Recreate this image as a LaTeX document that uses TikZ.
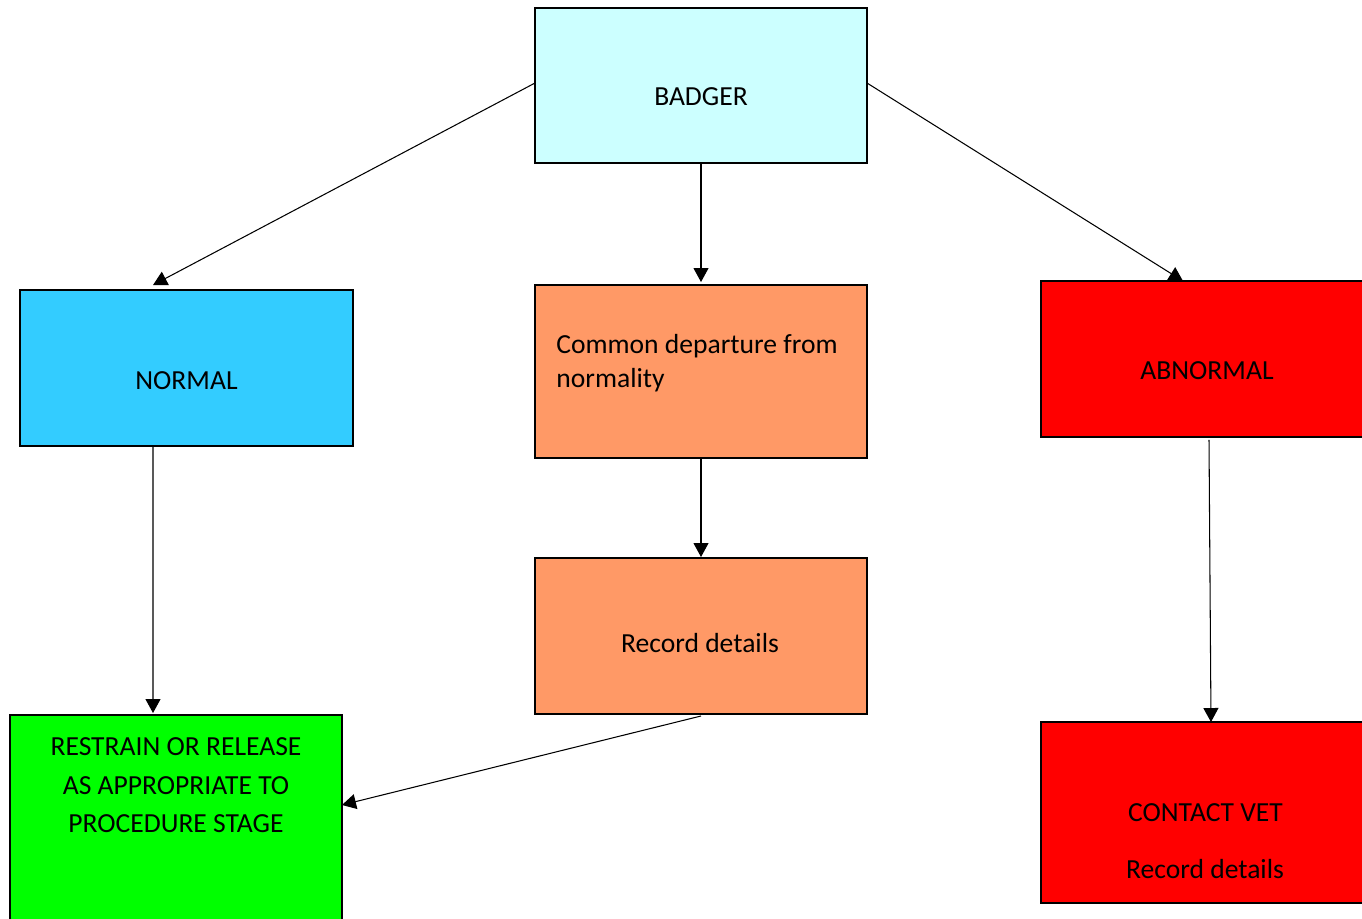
\documentclass[tikz,border=0pt]{standalone}
\usepackage{fontspec}
\setmainfont{Carlito}
\usetikzlibrary{arrows.meta}

\definecolor{paleblue}{HTML}{CCFFFF}
\definecolor{skyblue}{HTML}{33CCFF}
\definecolor{peach}{HTML}{FF9966}
\definecolor{alarmred}{HTML}{FF0000}
\definecolor{okgreen}{HTML}{00FF00}

\tikzset{
  box/.style={draw=black, line width=0.8pt, inner sep=0pt, outer sep=0pt, minimum width=6.64cm},
  txt/.style={inner sep=0pt, anchor=base, font=\fontsize{15.7}{19}\selectfont},
  arr/.style={line width=0.6pt, -{Triangle[length=0.28cm, width=0.3cm]}}
}

\begin{document}
\begin{tikzpicture}[x=0.02cm, y=-0.02cm]
\useasboundingbox (0,0) rectangle (1362,919);
% boxes
\node[box, fill=paleblue, minimum height=3.10cm] (badger) at (701,85.5) {};
\node[box, fill=skyblue, minimum width=6.66cm, minimum height=3.12cm] (normal) at (186.5,368) {};
\node[box, fill=peach, minimum height=3.46cm] (common) at (701,371.5) {};
\node[box, fill=alarmred, minimum height=3.12cm] (abnormal) at (1207,359) {};
\node[box, fill=peach, minimum height=3.12cm] (record) at (701,636) {};
\node[box, fill=okgreen, minimum height=4.40cm] (restrain) at (176,825) {};
\node[box, fill=alarmred, minimum height=3.62cm] (contact) at (1207,812.5) {};
% texts
\node[txt] (t-badger) at (701,106) {BADGER};
\node[txt] (t-normal) at (186.5,389) {NORMAL};
\node[txt, anchor=base west] (t-common1) at (556,353) {Common departure from};
\node[txt, anchor=base west] (t-common2) at (556,387) {normality};
\node[txt] (t-abnormal) at (1207,379) {ABNORMAL};
\node[txt] (t-record) at (700,652) {Record details};
\node[txt] (t-restrain1) at (176,755) {RESTRAIN OR RELEASE};
\node[txt] (t-restrain2) at (176,794) {AS APPROPRIATE TO};
\node[txt] (t-restrain3) at (176,832) {PROCEDURE STAGE};
\node[txt] (t-contact) at (1205.5,821) {CONTACT VET};
\node[txt] (t-contact2) at (1205,878) {Record details};
% connectors
\draw[arr] ([yshift=0.05cm]badger.west) -- ([xshift=-0.67cm,yshift=0.1cm]normal.north);
\draw[arr] (badger.south) -- ([yshift=0.06cm]common.north);
\draw[arr] ([yshift=0.05cm]badger.east) -- ([xshift=-0.48cm]abnormal.north);
\draw[arr] ([xshift=-0.67cm]normal.south) -- ([xshift=-0.46cm,yshift=0.04cm]restrain.north);
\draw[arr] (common.south) -- ([yshift=0.02cm]record.north);
\draw[arr] ([yshift=-0.04cm]record.south) -- ([yshift=0.4cm]restrain.east);
\draw[arr] ([xshift=0.04cm,yshift=-0.06cm]abnormal.south) -- ([xshift=0.08cm]contact.north);
\end{tikzpicture}
\end{document}
